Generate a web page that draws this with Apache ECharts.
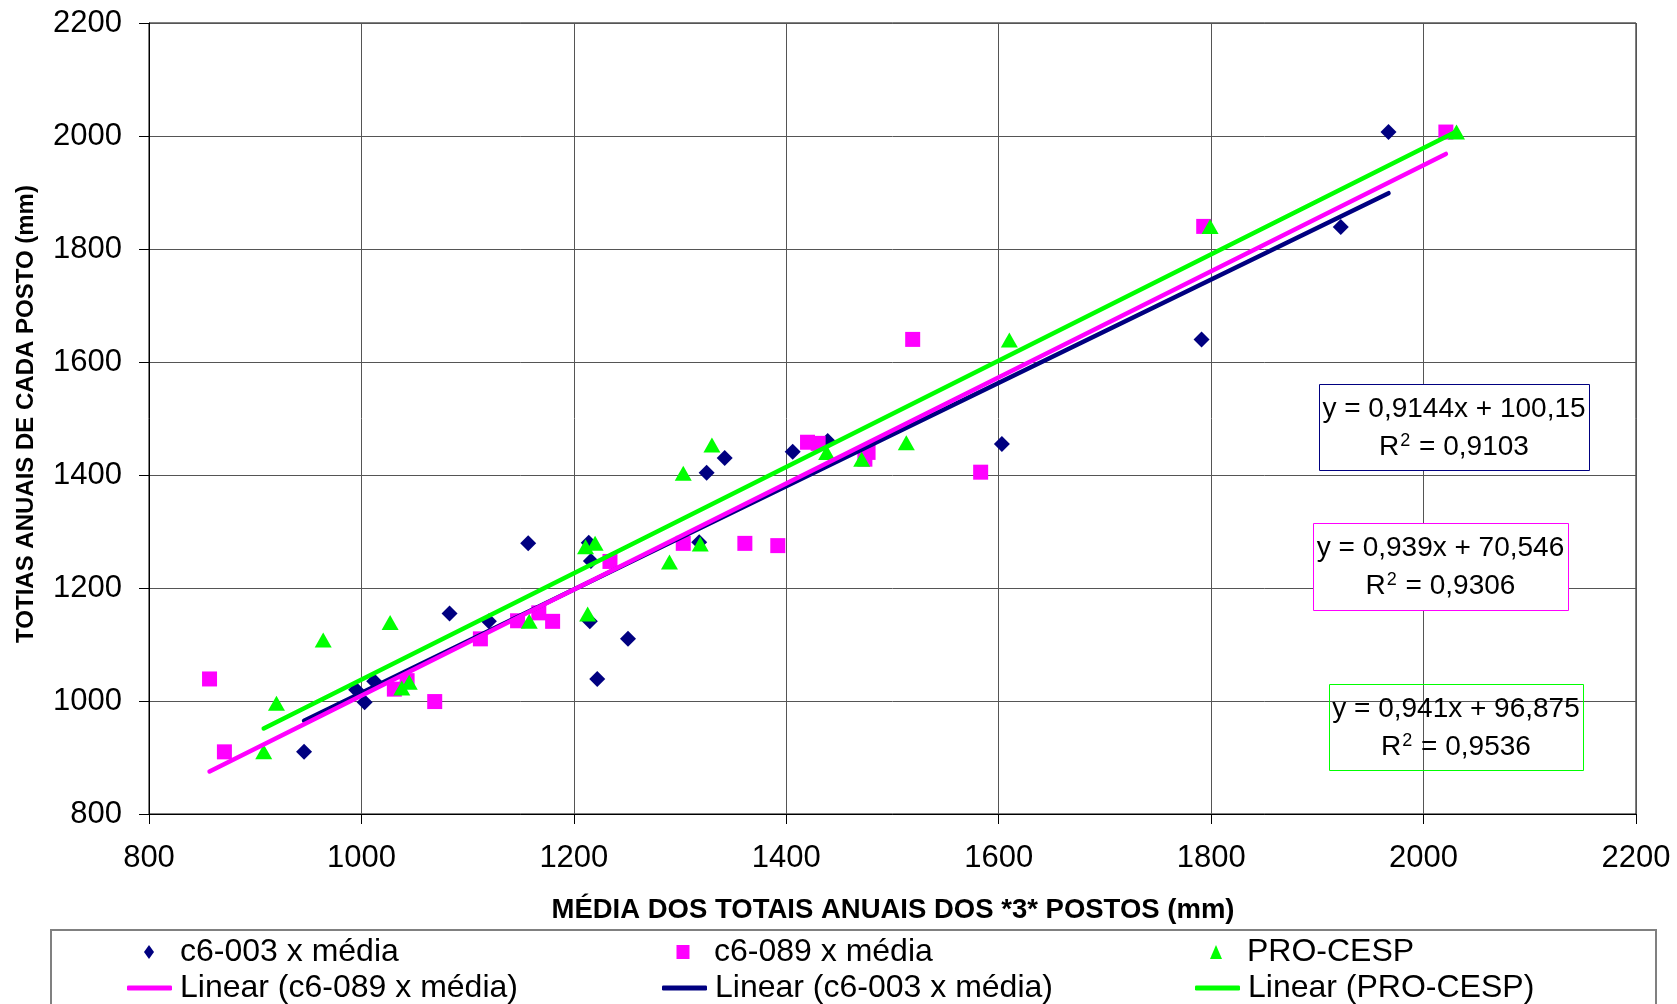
<!DOCTYPE html>
<html><head><meta charset="utf-8">
<script src="https://cdn.jsdelivr.net/npm/echarts@6/dist/echarts.min.js"></script>
<style>html,body{margin:0;padding:0;background:#fff}#c{width:1677px;height:1004px}</style>
</head><body><div id="c"></div>
<script>
const FONT = '"Liberation Sans", Arial, sans-serif';
const seriesNames = ['c6-003 x média', 'c6-089 x média', 'PRO-CESP'];
const trendNames = ['Linear (c6-003 x média)', 'Linear (c6-089 x média)', 'Linear (PRO-CESP)'];
const seriesColors = ['#000080', '#FF00FF', '#00FF00'];

const c6003X = [946, 995, 1003, 1012, 1083, 1120, 1157, 1214, 1216, 1215, 1222, 1251, 1318, 1325, 1342, 1406, 1439, 1603, 1791, 1922, 1967];
const c6003Y = [910, 1020, 998, 1035, 1155, 1141, 1279, 1280, 1248, 1141, 1039, 1110, 1281, 1404, 1430, 1441, 1460, 1455, 1640, 1839, 2007];

const c6089X = [857, 871, 1031, 1043, 1069, 1112, 1147, 1167, 1180, 1234, 1303, 1361, 1392, 1420, 1430, 1477, 1474, 1519, 1583, 1793, 2021];
const c6089Y = [1039, 910, 1021, 1036, 999, 1110, 1142, 1156, 1141, 1247, 1279, 1279, 1275, 1458, 1456, 1440, 1428, 1640, 1405, 1840, 2007];

const procespX = [908, 920, 964, 1027, 1038, 1045, 1158, 1211, 1213, 1220, 1290, 1303, 1319, 1330, 1438, 1471, 1513, 1610, 1799, 2031];
const procespY = [910, 996, 1108, 1139, 1023, 1033, 1141, 1273, 1154, 1279, 1246, 1403, 1278, 1453, 1440, 1428, 1457, 1639, 1840, 2007];

const trendSlope = [0.9144, 0.939, 0.941];
const trendIntercept = [100.15, 70.546, 96.875];
const eqText = ['y = 0,9144x + 100,15', 'y = 0,939x + 70,546', 'y = 0,941x + 96,875'];
const r2Text = ['0,9103', '0,9306', '0,9536'];

const axisMin = 800, axisMax = 2200, axisStep = 200;
const xTitle = 'MÉDIA DOS TOTAIS ANUAIS DOS *3* POSTOS (mm)';
const yTitle = 'TOTIAS ANUAIS DE CADA POSTO (mm)';

const xs = [c6003X, c6089X, procespX];
const ys = [c6003Y, c6089Y, procespY];
const symbols = ['diamond', 'rect', 'triangle'];
const symSizes = [[16, 16], [15, 15], [17, 15]];

const chart = echarts.init(document.getElementById('c'), null, {renderer: 'canvas'});

const series = [];
for (let i = 0; i < 3; i++) {
  series.push({
    name: seriesNames[i], type: 'scatter', symbol: symbols[i], symbolSize: symSizes[i],
    itemStyle: {color: seriesColors[i], opacity: 1},
    data: xs[i].map((x, k) => [x, ys[i][k]]), z: 2
  });
}
for (let i = 0; i < 3; i++) {
  const lo = Math.min(...xs[i]), hi = Math.max(...xs[i]);
  series.push({
    name: trendNames[i], type: 'line', symbol: 'none', silent: true,
    lineStyle: {color: seriesColors[i], width: 4.5, cap: 'round'},
    itemStyle: {color: seriesColors[i]},
    data: [[lo, trendSlope[i] * lo + trendIntercept[i]], [hi, trendSlope[i] * hi + trendIntercept[i]]],
    z: 3
  });
}

function legSym(name, symCenter, top, w, h) {
  return {
    data: [name], left: symCenter - w / 2, top: top, padding: 0, itemGap: 0,
    itemWidth: w, itemHeight: h,
    textStyle: {fontSize: 32, fontFamily: FONT, color: '#000', padding: [0, 0, 0, 31 - w / 2 - 5]},
    selectedMode: false
  };
}
function legLine(name, left, top, color) {
  return {
    data: [{name: name, icon: 'roundRect', itemStyle: {color: color}}],
    left: left, top: top, padding: 0, itemGap: 0,
    itemWidth: 45, itemHeight: 5,
    textStyle: {fontSize: 32, fontFamily: FONT, color: '#000', padding: [0, 0, 0, 3]},
    selectedMode: false
  };
}

const boxes = [
  {x: 1319, y: 384, w: 270, h: 86, fill: '#fff', stroke: '#000080'},
  {x: 1313, y: 523, w: 255, h: 87, fill: '#fff', stroke: '#FF00FF'},
  {x: 1329, y: 684, w: 254, h: 86, fill: 'transparent', stroke: '#00FF00'}
];
const graphics = [];
boxes.forEach((b, i) => {
  graphics.push({type: 'rect', shape: {x: b.x + 0.5, y: b.y + 0.5, width: b.w, height: b.h},
    style: {fill: b.fill, stroke: b.stroke, lineWidth: 1}, z: 10});
  graphics.push({type: 'text', x: b.x + b.w / 2, y: b.y + 25, z: 11,
    style: {text: eqText[i], font: '28px ' + FONT, fill: '#000', align: 'center', verticalAlign: 'middle'}});
  graphics.push({type: 'text', x: b.x + b.w / 2, y: b.y + 63, z: 11,
    style: {text: '{a|R}{s|2}{a| = ' + r2Text[i] + '}', font: '28px ' + FONT, fill: '#000', align: 'center', verticalAlign: 'middle',
      rich: {a: {fontSize: 28, fontFamily: FONT, fill: '#000'},
             s: {fontSize: 18, fontFamily: FONT, fill: '#000', verticalAlign: 'top', padding: [0, 1, 12, 1]}}}});
});
graphics.push({type: 'text', x: 893, y: 910, style: {text: xTitle, font: 'bold 27.5px ' + FONT, fill: '#000', align: 'center', verticalAlign: 'middle'}});
graphics.push({type: 'text', x: 26, y: 414, rotation: Math.PI / 2, style: {text: yTitle, font: 'bold 24px ' + FONT, fill: '#000', align: 'center', verticalAlign: 'middle'}});
graphics.push({type: 'rect', shape: {x: 51, y: 930, width: 1605, height: 100}, style: {fill: 'none', stroke: '#808080', lineWidth: 2}});

const axisCommon = {
  type: 'value', min: axisMin, max: axisMax, interval: axisStep,
  axisLine: {show: true, lineStyle: {color: '#000', width: 1}},
  axisTick: {show: true, inside: false, length: 10, lineStyle: {color: '#000'}},
  splitLine: {show: true, lineStyle: {color: '#555', width: 1}},
  axisLabel: {fontSize: 31, fontFamily: FONT, color: '#000', formatter: v => String(v)}
};

chart.setOption({
  animation: false,
  backgroundColor: '#fff',
  grid: {left: 149, right: 41, top: 23, bottom: 190, show: true, borderColor: '#000', borderWidth: 1},
  xAxis: Object.assign({}, axisCommon, {axisLabel: Object.assign({}, axisCommon.axisLabel, {margin: 29})}),
  yAxis: Object.assign({}, axisCommon, {axisLabel: Object.assign({}, axisCommon.axisLabel, {margin: 27})}),
  legend: [
    legSym(seriesNames[0], 149, 936, 10, 14),
    legSym(seriesNames[1], 683, 936, 13, 14),
    legSym(seriesNames[2], 1216, 936, 12, 14),
    legLine(trendNames[1], 127, 972, seriesColors[1]),
    legLine(trendNames[0], 662, 972, seriesColors[0]),
    legLine(trendNames[2], 1195, 972, seriesColors[2])
  ],
  series: series,
  graphic: graphics
});
</script></body></html>
